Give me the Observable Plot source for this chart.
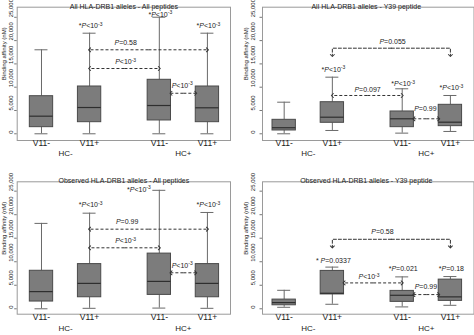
<!DOCTYPE html>
<html><head><meta charset="utf-8">
<script src="https://cdn.jsdelivr.net/npm/d3@7"></script>
<script src="https://cdn.jsdelivr.net/npm/@observablehq/plot@0.6"></script>
<style>
html,body{margin:0;padding:0;background:#fff;}
#wrap{position:relative;width:474px;height:335px;overflow:hidden;background:#fff;}
#wrap svg{position:absolute;}
marker path{stroke-dasharray:none;}
</style></head><body><div id="wrap"></div>
<script>
// ---- data ----
const boxLabels = ["V11-", "V11+", "V11-", "V11+"];
const hcLabels = ["HC-", "HC+"];
const titles = [
  "All HLA-DRB1 alleles - All peptides",
  "All HLA-DRB1 alleles - Y39 peptide",
  "Observed HLA-DRB1 alleles - All peptides",
  "Observed HLA-DRB1 alleles - Y39 peptide"
];
const yLabel = "Binding affinity (nM)";
const yTicks = [0, 5000, 10000, 15000, 20000, 25000];

// Panel 1: All alleles - All peptides
const p1Min = [0, 0, 0, 0];
const p1Q1 = [1420, 2490, 2860, 2490];
const p1Median = [3780, 5640, 6070, 5580];
const p1Q3 = [8070, 10150, 11590, 10150];
const p1Max = [18030, 21590, 25020, 21590];
const p1Stars = [
  {box: 1, y: 23090, text: "*P<10^-3"},
  {box: 2, y: 25600, text: "*P<10^-3"},
  {box: 3, y: 23090, text: "*P<10^-3"}
];
const p1Arrows = [
  {from: 1, fromSide: "c", to: 3, toSide: "c", y: 18030, text: "P=0.58", lx: 1.75, ly: 19440},
  {from: 1, fromSide: "c", to: 2, toSide: "c", y: 14010, text: "P<10^-3", lx: 1.75, ly: 15370},
  {from: 2, fromSide: "r", to: 3, toSide: "l", y: 8700, text: "P<10^-3", lx: 2.925, ly: 10370}
];
const p1Brackets = [];

// Panel 2: All alleles - Y39 peptide
const p2Min = [0, 710, 140, 500];
const p2Q1 = [710, 2360, 1420, 1640];
const p2Median = [1300, 3560, 3220, 2490];
const p2Q3 = [3000, 6780, 4790, 6220];
const p2Max = [6780, 12150, 9660, 8220];
const p2Stars = [
  {box: 1, y: 13800, text: "*P<10^-3"},
  {box: 2, y: 10730, text: "*P<10^-3"},
  {box: 3, y: 9790, text: "*P<10^-3"}
];
const p2Arrows = [
  {from: 1, fromSide: "c", to: 2, toSide: "c", y: 8220, text: "P=0.097", lx: 1.73, ly: 9440},
  {from: 2, fromSide: "r", to: 3, toSide: "l", y: 3220, text: "P=0.99", lx: 2.93, ly: 5370}
];
const p2Brackets = [
  {from: 1, to: 3, y: 18370, drop: 16800, text: "P=0.055", lx: 2.25, ly: 19810}
];

// Panel 3: Observed alleles - All peptides
const p3Min = [0, 100, 150, 100];
const p3Q1 = [1540, 2450, 2950, 2450];
const p3Median = [3650, 5400, 5820, 5400];
const p3Q3 = [8080, 9500, 11730, 9500];
const p3Max = [18150, 20320, 25180, 20470];
const p3Stars = [
  {box: 1, y: 22020, text: "*P<10^-3"},
  {box: 2, y: 25330, text: "*P<10^-3", side: "left"},
  {box: 3, y: 22020, text: "*P<10^-3"}
];
const p3Arrows = [
  {from: 1, fromSide: "c", to: 3, toSide: "c", y: 16920, text: "P=0.99", lx: 1.78, ly: 18470},
  {from: 1, fromSide: "c", to: 2, toSide: "c", y: 12960, text: "P<10^-3", lx: 1.75, ly: 14370},
  {from: 2, fromSide: "r", to: 3, toSide: "l", y: 7650, text: "P<10^-3", lx: 2.925, ly: 9200}
];
const p3Brackets = [];

// Panel 4: Observed alleles - Y39 peptide
const p4Min = [320, 960, 400, 740];
const p4Q1 = [744, 3050, 1470, 1680];
const p4Median = [1318, 3300, 2870, 2530];
const p4Q3 = [1955, 8050, 3800, 6200];
const p4Max = [3930, 8860, 6780, 6850];
const p4Stars = [
  {box: 1, y: 10310, text: "* P=0.0337"},
  {box: 2, y: 8540, text: "*P=0.021"},
  {box: 3, y: 8540, text: "*P=0.18"}
];
const p4Arrows = [
  {from: 1, fromSide: "r", to: 2, toSide: "c", y: 5500, text: "P<10^-3", lx: 1.76, ly: 6780},
  {from: 2, fromSide: "r", to: 3, toSide: "l", y: 3020, text: "P=0.99", lx: 2.94, ly: 4650}
];
const p4Brackets = [
  {from: 1, to: 3, y: 14770, drop: 13150, text: "P=0.58", lx: 2.04, ly: 16340}
];

// ---- drawing ----
const FONT = "'Liberation Sans', Arial, Helvetica, sans-serif";
const GAP = 0.45, HW = 0.2425, CAP = 0.135;
const pos = i => i + (i >= 2 ? GAP : 0);
const side = (i, s) => pos(i) + (s === "r" ? HW : s === "l" ? -HW : 0);
const TXT = "#1a1a1a";

function panel(title, mn, q1, med, q3, mx, stars, arrows, brackets, left, top) {
  const boxes = boxLabels.map((label, i) => ({
    i, x: pos(i), label, min: mn[i], q1: q1[i], median: med[i], q3: q3[i], max: mx[i]
  }));
  // each double-headed arrow = two halves from its midpoint outward (arrowhead at the end of each)
  const halves = arrows.flatMap(a => {
    const x1 = side(a.from, a.fromSide), x2 = side(a.to, a.toSide), m = (x1 + x2) / 2;
    return [{xa: m, xb: x1, y: a.y}, {xa: m, xb: x2, y: a.y}];
  });
  const bracketPts = brackets.flatMap((b, k) => {
    const m = (pos(b.from) + pos(b.to)) / 2;
    return [
      {k: 2 * k, x: m, y: b.y}, {k: 2 * k, x: pos(b.from), y: b.y}, {k: 2 * k, x: pos(b.from), y: b.drop},
      {k: 2 * k + 1, x: m, y: b.y}, {k: 2 * k + 1, x: pos(b.to), y: b.y}, {k: 2 * k + 1, x: pos(b.to), y: b.drop}
    ];
  });
  const hc = hcLabels.map((t, g) => ({t, x: (pos(2 * g) + pos(2 * g + 1)) / 2}));
  const labels = arrows.concat(brackets);
  const starsC = stars.filter(s => s.side !== "left");
  const starsL = stars.filter(s => s.side === "left");
  const mt = top ? 6.7 : 13.3, mb = top ? 27 : 21.3;
  const svg = Plot.plot({
    width: 237, height: 167,
    marginLeft: left ? 16.7 : 25, marginRight: left ? 7 : 0.5,
    marginTop: mt, marginBottom: mb,
    x: {domain: left ? [-0.505, 3.93] : [-0.45, 3.94], axis: null},
    y: {domain: top ? [-1440, 27170] : [-1150, 26990], axis: null, label: null},
    style: {fontFamily: FONT, background: "transparent", overflow: "visible", color: TXT},
    marks: [
      Plot.frame({stroke: "#9a9a9a"}),
      Plot.axisY(yTicks, {anchor: "left", tickSize: 2.5, tickFormat: () => "", label: null, stroke: "#777"}),
      Plot.text(yTicks, {y: d => d, text: d => d3.format(",")(d), frameAnchor: "left", rotate: -90,
        dx: left ? -6 : -9, fontSize: 6, fill: TXT}),
      Plot.text([yLabel], {y: () => 11500, text: d => d, frameAnchor: "left", rotate: -90,
        dx: left ? -12.7 : -16, fontSize: 6, fill: TXT}),
      Plot.ruleX(boxes, {x: "x", y1: "min", y2: "q1", stroke: "#6a6a6a"}),
      Plot.ruleX(boxes, {x: "x", y1: "q3", y2: "max", stroke: "#6a6a6a"}),
      Plot.ruleY(boxes, {y: "max", x1: d => d.x - CAP, x2: d => d.x + CAP, stroke: "#6a6a6a"}),
      Plot.ruleY(boxes, {y: "min", x1: d => d.x - CAP, x2: d => d.x + CAP, stroke: "#6a6a6a"}),
      Plot.rect(boxes, {x1: d => d.x - HW, x2: d => d.x + HW, y1: "q1", y2: "q3", fill: "#7c7c7c", stroke: "#4a4a4a"}),
      Plot.ruleY(boxes, {y: "median", x1: d => d.x - HW, x2: d => d.x + HW, stroke: "#2e2e2e", strokeWidth: 1.2}),
      Plot.link(halves, {x1: "xa", x2: "xb", y1: "y", y2: "y", stroke: "#333", strokeWidth: 1,
        strokeDasharray: "3,2", markerEnd: "arrow"}),
      Plot.line(bracketPts, {x: "x", y: "y", z: "k", stroke: "#333", strokeWidth: 1, strokeDasharray: "3,2",
        strokeLinejoin: "miter", markerEnd: "arrow"}),
      Plot.text(labels, {x: "lx", y: "ly", text: "text", fontSize: 7, fill: TXT}),
      Plot.text(starsC, {x: d => pos(d.box), y: "y", text: "text", fontSize: 7, dx: 1, fill: TXT}),
      Plot.text(starsL, {x: d => pos(d.box) - CAP, y: "y", text: "text", fontSize: 7, dx: -2, textAnchor: "end", fill: TXT}),
      Plot.text(boxes, {x: "x", text: "label", frameAnchor: "bottom", dy: top ? 5.7 : 6, fontSize: 8.5, fill: TXT}),
      Plot.text(hc, {x: "x", text: "t", frameAnchor: "bottom", dy: top ? 15 : 16.8, fontSize: 8, fill: TXT}),
      Plot.text([title], {text: d => d, frameAnchor: "top", dy: top ? -3 : -3.3, dx: left ? 0 : -2, fontSize: 7, fill: TXT})
    ]
  });
  // italic P and superscript exponent
  svg.querySelectorAll("text").forEach(t => {
    const s = t.textContent;
    const m = s.match(/^([^P]*)P([<=].*)$/);
    if (!m) return;
    const [base, sup] = m[2].split("^");
    t.textContent = "";
    const add = (str, attrs) => {
      const sp = document.createElementNS("http://www.w3.org/2000/svg", "tspan");
      sp.textContent = str;
      for (const k in attrs) sp.setAttribute(k, attrs[k]);
      t.appendChild(sp);
    };
    if (m[1]) add(m[1], {});
    add("P", {"font-style": "italic"});
    add(base, {});
    if (sup) add(sup, {"font-size": "5", "dy": "-2.5"});
  });
  return svg;
}

const wrap = document.getElementById("wrap");
const specs = [
  [titles[0], p1Min, p1Q1, p1Median, p1Q3, p1Max, p1Stars, p1Arrows, p1Brackets, true, true, 0, 0],
  [titles[1], p2Min, p2Q1, p2Median, p2Q3, p2Max, p2Stars, p2Arrows, p2Brackets, false, true, 237, 0],
  [titles[2], p3Min, p3Q1, p3Median, p3Q3, p3Max, p3Stars, p3Arrows, p3Brackets, true, false, 0, 168],
  [titles[3], p4Min, p4Q1, p4Median, p4Q3, p4Max, p4Stars, p4Arrows, p4Brackets, false, false, 237, 168]
];
for (const s of specs) {
  const svg = panel(...s.slice(0, 11));
  svg.style.left = s[11] + "px";
  svg.style.top = s[12] + "px";
  svg.style.maxWidth = "none";
  wrap.appendChild(svg);
}
</script></body></html>
